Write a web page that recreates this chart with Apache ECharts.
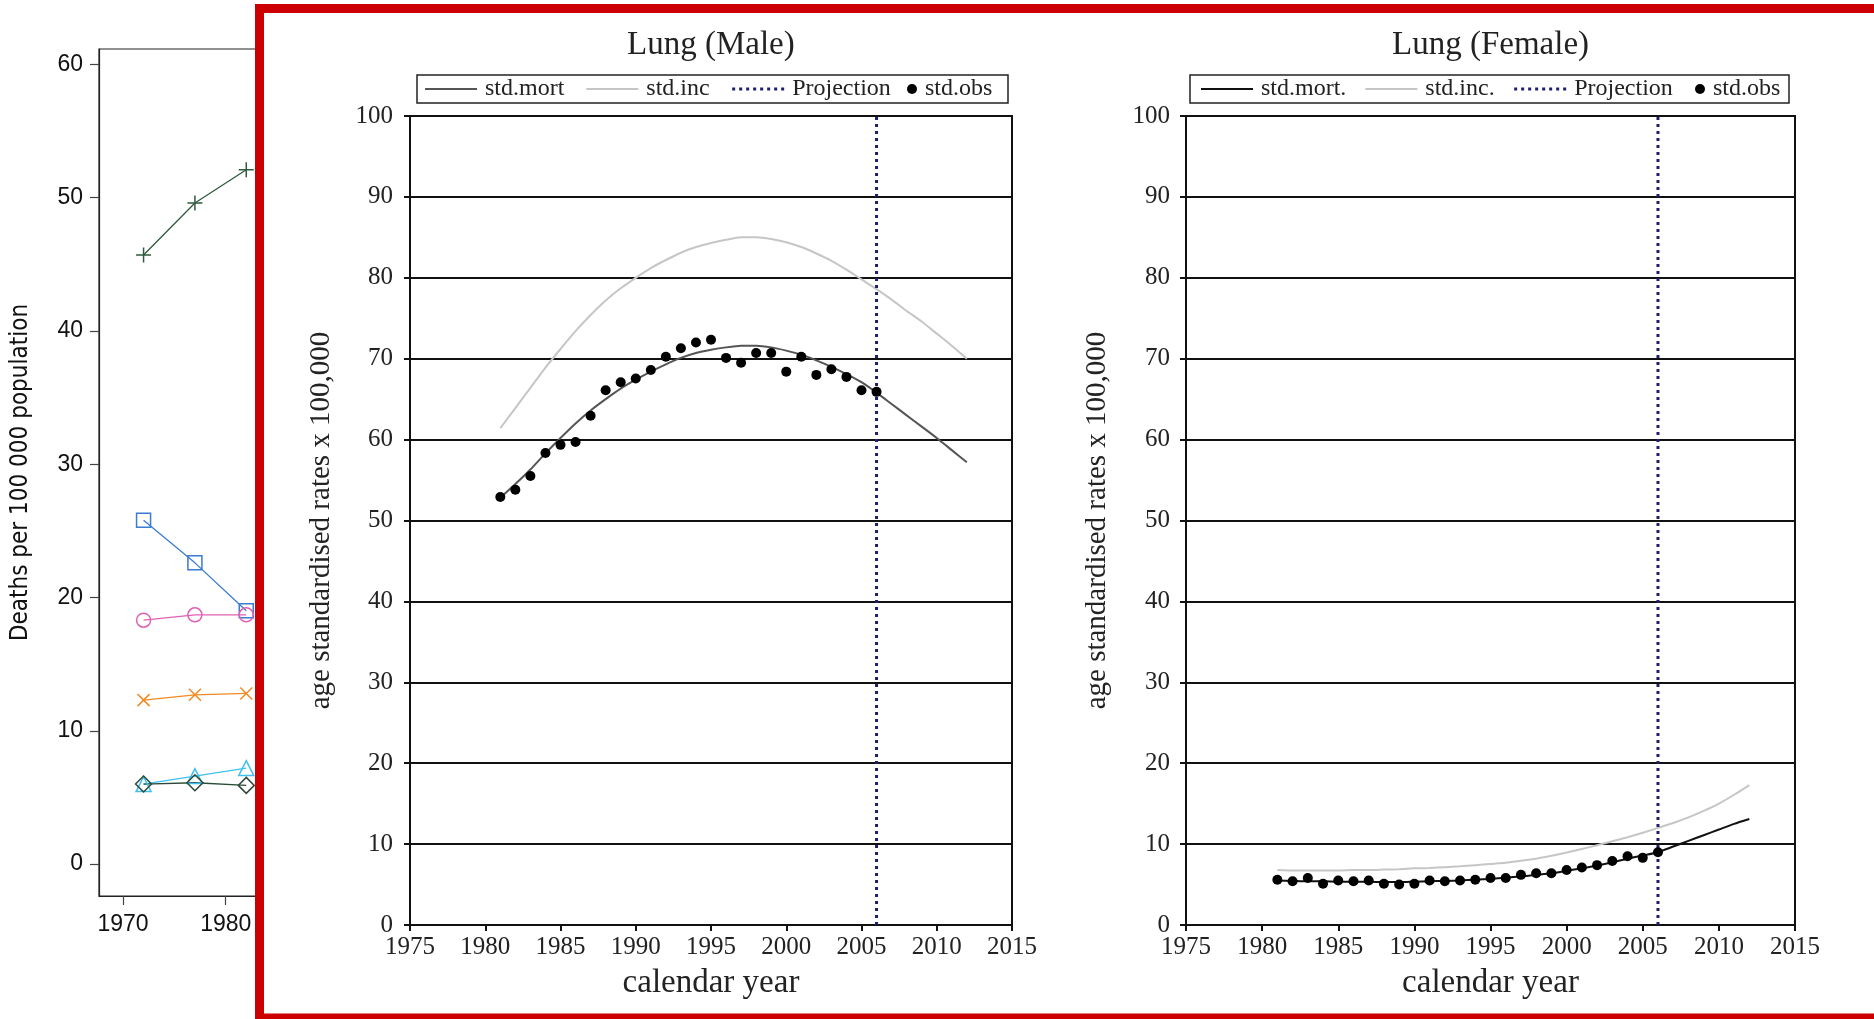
<!DOCTYPE html>
<html>
<head>
<meta charset="utf-8">
<script src="https://cdn.jsdelivr.net/npm/echarts@6.0.0/dist/echarts.min.js"></script>
<style>
  html, body { margin: 0; padding: 0; background: #fff; }
  #root { width: 1874px; height: 1019px; }
</style>
</head>
<body>
<div id="root"></div>
<script>
// ---- background chart (deaths per 100 000), mostly hidden behind the panel
const leftYears = [1972, 1977, 1982];
const plusVals = [45.7, 49.6, 52.1];
const squareVals = [25.8, 22.6, 19.0];
const circleVals = [18.3, 18.7, 18.7];
const crossVals = [12.3, 12.7, 12.8];
const triangleVals = [6.0, 6.6, 7.2];
const diamondVals = [6.0, 6.1, 5.9];
const leftXTicks = [1970, 1980, 1990, 2000, 2010];
const leftYTicks = [0, 10, 20, 30, 40, 50, 60];

// ---- lung panels
const obsYears = [1981, 1982, 1983, 1984, 1985, 1986, 1987, 1988, 1989, 1990, 1991, 1992, 1993,
  1994, 1995, 1996, 1997, 1998, 1999, 2000, 2001, 2002, 2003, 2004, 2005, 2006];
const fitYears = [1981, 1982, 1983, 1984, 1985, 1986, 1987, 1988, 1989, 1990, 1991, 1992, 1993,
  1994, 1995, 1996, 1997, 1998, 1999, 2000, 2001, 2002, 2003, 2004, 2005, 2006, 2007, 2008,
  2009, 2010, 2011, 2012];
const projectionYear = 2006;

const maleObs = [52.9, 53.8, 55.5, 58.35, 59.35, 59.7, 62.95, 66.1, 67.1, 67.55, 68.6, 70.25, 71.3,
  72.0, 72.35, 70.1, 69.5, 70.7, 70.7, 68.4, 70.25, 68.0, 68.7, 67.75, 66.1, 65.9];
const maleMort = [52.8, 54.5, 56.3, 58.3, 60.2, 62.0, 63.6, 65.0, 66.3, 67.4, 68.4, 69.3, 70.1,
  70.7, 71.1, 71.4, 71.6, 71.6, 71.4, 71.0, 70.5, 69.8, 69.0, 68.1, 67.1, 65.8, 64.4, 63.0,
  61.6, 60.2, 58.7, 57.2];
const maleInc = [61.4, 63.9, 66.4, 68.9, 71.2, 73.4, 75.4, 77.2, 78.7, 80.0, 81.2, 82.2, 83.1,
  83.8, 84.3, 84.7, 85.0, 85.0, 84.8, 84.4, 83.8, 83.0, 82.1, 81.0, 79.8, 78.6, 77.3, 75.9,
  74.6, 73.1, 71.6, 70.0];

const femaleObs = [5.6, 5.4, 5.8, 5.1, 5.5, 5.4, 5.5, 5.1, 5.0, 5.1, 5.5, 5.4, 5.5,
  5.6, 5.8, 5.8, 6.2, 6.4, 6.4, 6.8, 7.1, 7.4, 7.9, 8.5, 8.3, 9.0];
const femaleMort = [5.5, 5.45, 5.4, 5.4, 5.35, 5.35, 5.35, 5.3, 5.3, 5.35, 5.4, 5.45, 5.5,
  5.6, 5.7, 5.85, 6.0, 6.2, 6.4, 6.7, 7.0, 7.35, 7.75, 8.2, 8.6, 9.0, 9.7, 10.4,
  11.1, 11.8, 12.5, 13.1];
const femaleInc = [6.8, 6.75, 6.75, 6.75, 6.75, 6.8, 6.8, 6.85, 6.9, 7.0, 7.05, 7.15, 7.25,
  7.4, 7.55, 7.7, 7.95, 8.2, 8.55, 8.95, 9.4, 9.85, 10.35, 10.85, 11.4, 12.0, 12.6, 13.3,
  14.1, 15.0, 16.1, 17.3];

const serif = '"Liberation Serif", "Times New Roman", serif';
const sans = '"Liberation Sans", Arial, sans-serif';
const narrow = '"Liberation Sans Narrow", "DejaVu Sans Condensed", sans-serif';

const pairs = (xs, ys) => xs.map((x, i) => [x, ys[i]]);
const plain = v => String(v);

const chart = echarts.init(document.getElementById('root'));

// background chart series, R style open markers
const leftDefs = [
  { vals: plusVals, symbol: 'path://M6,0V12M0,6H12', color: '#2e5b3c', size: 15 },
  { vals: squareVals, symbol: 'rect', color: '#3b7bd0', size: 14 },
  { vals: circleVals, symbol: 'circle', color: '#e060b4', size: 14 },
  { vals: crossVals, symbol: 'path://M0,0L10,10M10,0L0,10', color: '#f08a22', size: 12 },
  { vals: triangleVals, symbol: 'triangle', color: '#40c0ef', size: 15 },
  { vals: diamondVals, symbol: 'diamond', color: '#2b4a38', size: 16 }
];
const leftSeries = leftDefs.map(d => ({
  type: 'line',
  xAxisIndex: 0,
  yAxisIndex: 0,
  z: 1,
  data: pairs(leftYears, d.vals),
  symbol: d.symbol,
  symbolSize: d.size,
  lineStyle: { color: d.color, width: 1.3 },
  itemStyle: { color: 'transparent', borderColor: d.color, borderWidth: 1.5 }
}));

function panelAxes(gi, labelMargin) {
  const x = {
    type: 'value', gridIndex: gi, min: 1975, max: 2015, interval: 5, z: 4,
    name: 'calendar year', nameLocation: 'middle', nameGap: 42,
    nameTextStyle: { fontFamily: serif, fontSize: 33, color: '#222' },
    axisLine: { onZero: false, lineStyle: { color: '#111', width: 2 } },
    axisTick: { length: 6, lineStyle: { color: '#111', width: 2 } },
    axisLabel: { formatter: plain, fontFamily: serif, fontSize: 25, color: '#222', margin: 10 },
    splitLine: { show: false }
  };
  const y = {
    type: 'value', gridIndex: gi, min: 0, max: 100, interval: 10, z: 4,
    name: 'age standardised rates x 100,000', nameLocation: 'middle', nameGap: 74,
    nameTextStyle: { fontFamily: serif, fontSize: 29, color: '#222' },
    axisLine: { onZero: false, lineStyle: { color: '#111', width: 2 } },
    axisTick: { length: 6, lineStyle: { color: '#111', width: 2 } },
    axisLabel: { formatter: plain, fontFamily: serif, fontSize: 25, color: '#222', margin: labelMargin },
    splitLine: { lineStyle: { color: '#111', width: 2 } }
  };
  return { x, y };
}

function panelSeries(gi, names, obs, mort, inc, mortColor) {
  return [
    { name: names[0], type: 'line', xAxisIndex: gi, yAxisIndex: gi, z: 5,
      data: pairs(fitYears, mort), symbol: 'none', smooth: 0.2,
      lineStyle: { color: mortColor, width: 2 }, itemStyle: { color: mortColor } },
    { name: names[1], type: 'line', xAxisIndex: gi, yAxisIndex: gi, z: 5,
      data: pairs(fitYears, inc), symbol: 'none', smooth: 0.2,
      lineStyle: { color: '#c6c6c6', width: 2 }, itemStyle: { color: '#c6c6c6' } },
    { name: 'Projection', type: 'line', xAxisIndex: gi, yAxisIndex: gi, z: 6,
      data: [[projectionYear, 0], [projectionYear, 100]], symbol: 'none',
      lineStyle: { color: '#1e1e6e', width: 3, type: [3, 4] }, itemStyle: { color: '#1e1e6e' } },
    { name: 'std.obs', type: 'scatter', xAxisIndex: gi, yAxisIndex: gi, z: 7,
      data: pairs(obsYears, obs), symbol: 'circle', symbolSize: 10,
      itemStyle: { color: '#000', opacity: 1 } }
  ];
}

const legendText = { fontFamily: serif, fontSize: 24, color: '#222', lineHeight: 24, padding: [0, 0, 0, 3] };

function lineLegend(names, left, gap) {
  return {
    left: left, top: 77, padding: 0, itemGap: gap, itemWidth: 52, itemHeight: 14,
    selectedMode: false, z: 6, textStyle: legendText,
    data: names.map(n => n === 'Projection'
      ? { name: n, itemStyle: { opacity: 0 }, lineStyle: { width: 3 } }
      : { name: n, itemStyle: { opacity: 0 } })
  };
}
function dotLegend(left) {
  return {
    left: left, top: 77, padding: 0, itemWidth: 10, itemHeight: 10,
    selectedMode: false, z: 6, textStyle: legendText,
    data: [{ name: 'std.obs', icon: 'circle', itemStyle: { opacity: 1 } }]
  };
}

const male = panelAxes(1, 17);
const female = panelAxes(2, 16);

const option = {
  animation: false,
  backgroundColor: '#fff',
  title: [
    { text: 'Lung (Male)', left: 627, top: 29, padding: 0, z: 6,
      textStyle: { fontFamily: serif, fontSize: 33, fontWeight: 'normal', color: '#222' } },
    { text: 'Lung (Female)', left: 1392, top: 29, padding: 0, z: 6,
      textStyle: { fontFamily: serif, fontSize: 33, fontWeight: 'normal', color: '#222' } }
  ],
  legend: [
    lineLegend(['std.mort', 'std.inc', 'Projection'], 424, 21),
    dotLegend(907),
    lineLegend(['std.mort.', 'std.inc.', 'Projection'], 1200, 18),
    dotLegend(1695)
  ],
  grid: [
    { left: 99, top: 49, width: 462, height: 847, show: true, borderColor: '#222', borderWidth: 1.2, z: 0 },
    { left: 410, top: 116, width: 602, height: 809, show: true, borderColor: '#111', borderWidth: 2, z: 4 },
    { left: 1186, top: 116, width: 609, height: 809, show: true, borderColor: '#111', borderWidth: 2, z: 4 }
  ],
  xAxis: [
    {
      type: 'value', gridIndex: 0, min: 1967.66, max: 2012.65, z: 0,
      axisLine: { onZero: false, lineStyle: { color: '#222', width: 1.2 } },
      axisTick: { length: 9, customValues: leftXTicks, lineStyle: { color: '#444', width: 1.2 } },
      axisLabel: { customValues: leftXTicks, formatter: plain, fontFamily: sans, fontSize: 23, color: '#111', margin: 17 },
      splitLine: { show: false }
    },
    male.x, female.x
  ],
  yAxis: [
    {
      type: 'value', gridIndex: 0, min: -2.4, max: 61.16, z: 0,
      name: 'Deaths per 100 000 population', nameLocation: 'middle', nameGap: 66,
      nameTextStyle: { fontFamily: narrow, fontSize: 24, color: '#111' },
      axisLine: { onZero: false, lineStyle: { color: '#222', width: 1.2 } },
      axisTick: { length: 9, customValues: leftYTicks, lineStyle: { color: '#444', width: 1.2 } },
      axisLabel: { customValues: leftYTicks, formatter: plain, fontFamily: sans, fontSize: 23, color: '#111', margin: 16 },
      splitLine: { show: false }
    },
    male.y, female.y
  ],
  graphic: [
    { type: 'rect', z: 3, silent: true,
      shape: { x: 259.5, y: 8.5, width: 1700, height: 1009.5 },
      style: { fill: '#fff', stroke: '#cc0000', lineWidth: 9 } },
    { type: 'rect', z: 5, silent: true,
      shape: { x: 417, y: 75, width: 591, height: 28 },
      style: { fill: '#fff', stroke: '#222', lineWidth: 1.5 } },
    { type: 'rect', z: 5, silent: true,
      shape: { x: 1190, y: 75, width: 599, height: 28 },
      style: { fill: '#fff', stroke: '#222', lineWidth: 1.5 } }
  ],
  series: [
    ...leftSeries,
    ...panelSeries(1, ['std.mort', 'std.inc'], maleObs, maleMort, maleInc, '#555'),
    ...panelSeries(2, ['std.mort.', 'std.inc.'], femaleObs, femaleMort, femaleInc, '#111')
  ]
};

chart.setOption(option);
</script>
</body>
</html>
